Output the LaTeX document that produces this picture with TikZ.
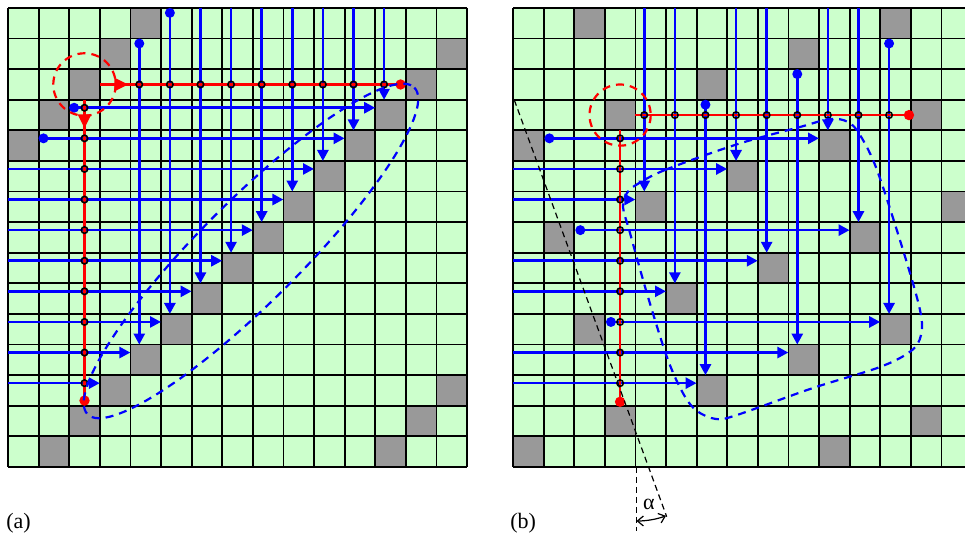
\documentclass[tikz,border=0pt]{standalone}
\usepackage{fontspec}
\setmainfont{Liberation Serif}
\usetikzlibrary{arrows.meta}
\definecolor{cellgreen}{HTML}{CCFFCC}
\definecolor{cellgray}{HTML}{999999}
\definecolor{lineblue}{HTML}{0000FF}
\definecolor{linered}{HTML}{FF0000}
\begin{document}
\begin{tikzpicture}[x=0.5pt,y=-0.5pt,
  gridln/.style={black, line width=0.9pt},
  bray/.style={lineblue, line width=1.3pt, -{Triangle[length=5.5pt,width=5.5pt]}},
  rray/.style={linered, line width=1.3pt},
  rarrow/.style={linered, line width=1.3pt, -{Triangle[length=7pt,width=6.5pt]}},
  xdot/.style={draw=black, line width=0.8pt},
  bdash/.style={lineblue, line width=1.1pt, dash pattern=on 4pt off 3pt},
  rdash/.style={linered, line width=1.1pt, dash pattern=on 4pt off 3pt},
  kdash/.style={black, line width=0.6pt, dash pattern=on 3pt off 2pt},
  lbl/.style={inner sep=0pt, font=\fontsize{11}{13}\selectfont},
]
\clip (0,0) rectangle (965,533);
\fill[white] (0,0) rectangle (965,533);

% ---------------- left grid (a)
\begin{scope}[shift={(4pt,-4pt)}, x=15.3pt, y=-15.3pt]
  \fill[cellgreen] (0,0) rectangle (15,15);
  \foreach \c in {0,...,14}{
    \foreach \r in {0,...,14}{
      \pgfmathtruncatemacro\m{mod(\c+\r,11)}
      \ifnum\m=4 \fill[cellgray] (\c,\r) rectangle +(1,1);\fi
    }
  }
  \foreach \i in {0,...,15}{
    \draw[gridln] (\i,0) -- (\i,15);
    \draw[gridln] (0,\i) -- (15,\i);
  }
  % blue vertical rays
  \foreach \c/\s in {4/1.16,5/0.16,6/0,7/0,8/0,9/0,10/0,11/0,12/0}{
    \pgfmathsetmacro\e{15-\c}
    \draw[bray] (\c+0.29,\s) -- (\c+0.29,\e);
  }
  % blue horizontal rays
  \foreach \r/\s in {3/2.16,4/1.16,5/0,6/0,7/0,8/0,9/0,10/0,11/0,12/0}{
    \pgfmathsetmacro\e{15-\r}
    \draw[bray] (\s,\r+0.26) -- (\e,\r+0.26);
  }
  % red lines
  \draw[rray] (3,2.5) -- (12.83,2.5);
  \draw[rray] (2.5,3) -- (2.5,12.83);
  \draw[rarrow] (3,2.5) -- (3.93,2.5);
  \draw[rarrow] (2.5,3) -- (2.5,3.93);
  \foreach \k in {0,...,8}{\draw[xdot] (4.29+\k,2.5) circle[radius=1.6pt];}
  \foreach \k in {0,...,9}{\draw[xdot] (2.5,3.26+\k) circle[radius=1.6pt];}
  % blue start dots
  \fill[lineblue] (4.29,1.16) circle[radius=2.5pt];
  \fill[lineblue] (5.29,0.16) circle[radius=2.5pt];
  \fill[lineblue] (2.16,3.26) circle[radius=2.5pt];
  \fill[lineblue] (1.16,4.26) circle[radius=2.5pt];
  % red end dots
  \fill[linered] (12.83,2.5) circle[radius=2.6pt];
  \fill[linered] (2.5,12.83) circle[radius=2.6pt];
  % dashed outlines
  \draw[rdash] (2.5,2.5) circle[radius=1.02];
  \draw[bdash, rotate around={45:(7.94,7.94)}] (7.94,7.94) ellipse[x radius=7.55, y radius=1.65];
\end{scope}

% ---------------- right grid (b)
\begin{scope}[shift={(256.5pt,-4pt)}, x=15.3pt, y=-15.3pt]
  \fill[cellgreen] (0,0) rectangle (15,15);
  \foreach \c in {0,...,14}{
    \foreach \r in {0,...,14}{
      \pgfmathtruncatemacro\m{mod(\c+3*\r,10)}
      \ifnum\m=2 \fill[cellgray] (\c,\r) rectangle +(1,1);\fi
    }
  }
  \foreach \i in {0,...,15}{
    \draw[gridln] (\i,0) -- (\i,15);
    \draw[gridln] (0,\i) -- (15,\i);
  }
  \foreach \c/\s/\e in {4/0/6,5/0/9,6/3.16/12,7/0/5,8/0/8,9/2.16/11,10/0/4,11/0/7,12/1.16/10}{
    \draw[bray] (\c+0.29,\s) -- (\c+0.29,\e);
  }
  \foreach \r/\s/\e in {4/1.19/10,5/0/7,6/0/4,7/2.2/11,8/0/8,9/0/5,10/3.2/12,11/0/9,12/0/6}{
    \draw[bray] (\s,\r+0.26) -- (\e,\r+0.26);
  }
  \draw[rray] (4,3.5) -- (12.94,3.5);
  \draw[rray] (3.5,4) -- (3.5,12.87);
  \foreach \k in {0,...,8}{\draw[xdot] (4.29+\k,3.5) circle[radius=1.6pt];}
  \foreach \k in {0,...,8}{\draw[xdot] (3.5,4.26+\k) circle[radius=1.6pt];}
  \fill[lineblue] (6.29,3.16) circle[radius=2.5pt];
  \fill[lineblue] (9.29,2.16) circle[radius=2.5pt];
  \fill[lineblue] (12.29,1.16) circle[radius=2.5pt];
  \fill[lineblue] (1.19,4.26) circle[radius=2.5pt];
  \fill[lineblue] (2.2,7.26) circle[radius=2.5pt];
  \fill[lineblue] (3.2,10.26) circle[radius=2.5pt];
  \fill[linered] (12.94,3.5) circle[radius=2.6pt];
  \fill[linered] (3.5,12.87) circle[radius=2.6pt];
  \draw[rdash] (3.5,3.5) circle[radius=1.0];
\end{scope}

% blue dashed region (b)
\draw[bdash] plot[smooth cycle, tension=0.55] coordinates {
  (636,185) (665,170) (738,144) (800,127) (830,119) (848,122) (860,135)
  (877,170) (903,250) (920,310) (921,335) (911,351) (880,367) (813,388)
  (737,415) (716,419) (697,411) (684,395) (668,360) (648,297) (630,233)
  (623,207) (627,193)};

% angle construction
\coordinate (ktop) at (514.3,100);
\coordinate (kend) at (666.7,516.7);
\coordinate (vtop) at (636.5,467);
\coordinate (vbot) at (636.5,531);
\draw[kdash] (ktop) -- (kend);
\draw[kdash] (vtop) -- (vbot);
\draw[black, line width=0.6pt, {Straight Barb[length=3pt,width=5pt]}-{Straight Barb[length=3pt,width=5pt]}]
  (636.5,521) arc[start angle=90, end angle=70.2, radius=87];
\node[inner sep=0pt, font=\fontsize{11}{13}\selectfont] (alpha) at (649,504) {α};

\node[lbl, anchor=west] (la) at (6,523) {(a)};
\node[lbl, anchor=west] (lb) at (510,523) {(b)};
\end{tikzpicture}
\end{document}
